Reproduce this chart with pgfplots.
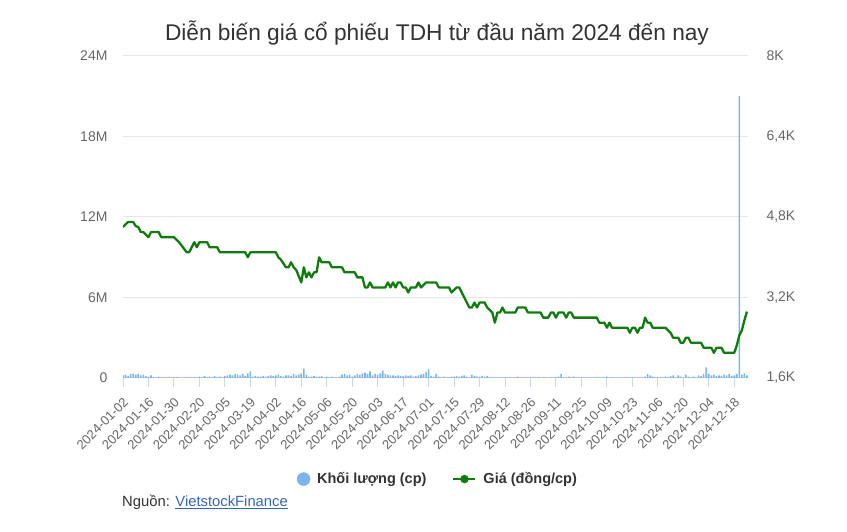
\documentclass[border=0pt]{standalone}
\usepackage{fontspec}
\setmainfont{Liberation Sans}
\usepackage{pgfplots}
\pgfplotsset{compat=1.18}
\definecolor{cgrid}{HTML}{E6E6E6}
\definecolor{caxis}{HTML}{CCD6EB}
\definecolor{clabel}{HTML}{666666}
\definecolor{ctitle}{HTML}{333333}
\definecolor{cbar}{HTML}{7CB5EC}
\definecolor{cline}{RGB}{16,124,16}
\definecolor{clink}{RGB}{51,102,187}
\begin{document}
\begin{tikzpicture}[x=1pt,y=1pt]
\useasboundingbox (0,0) rectangle (847,532);
\node[font=\fontsize{22.7}{26}\selectfont, text=ctitle] at (437,499) {Diễn biến giá cổ phiếu TDH từ đầu năm 2024 đến nay};
\node[anchor=base west, font=\fontsize{14.8}{17}\selectfont, text=ctitle, inner sep=0pt] at (122,25) {Nguồn: \textcolor{clink}{\underline{VietstockFinance}}};
\begin{axis}[
  at={(123pt,154pt)}, anchor=south west,
  scale only axis, width=625pt, height=322pt,
  xmin=0, xmax=245.4, ymin=0, ymax=24,
  ytick={0,6,12,18,24}, yticklabels={0,6M,12M,18M,24M},
  ymajorgrids, grid style={cgrid, line width=1pt},
  xtick={0,10,...,240},
  xticklabels={2024-01-02,2024-01-16,2024-01-30,2024-02-20,2024-03-05,2024-03-19,2024-04-02,2024-04-16,2024-05-06,2024-05-20,2024-06-03,2024-06-17,2024-07-01,2024-07-15,2024-07-29,2024-08-12,2024-08-26,2024-09-11,2024-09-25,2024-10-09,2024-10-23,2024-11-06,2024-11-20,2024-12-04,2024-12-18},
  axis x line*=bottom, axis y line*=left,
  y axis line style={draw=none},
  x axis line style={draw=caxis, line width=1pt},
  tick align=outside, major tick length=9pt,
  xtick style={draw=caxis, line width=1pt},
  ytick style={draw=none},
  xticklabel style={xshift=3pt, yshift=-13pt, rotate=45, anchor=east, font=\fontsize{13}{15}\selectfont, text=clabel, inner sep=0pt},
  yticklabel style={font=\fontsize{14}{16}\selectfont, text=clabel, xshift=-3pt},
]
\addplot[ybar, bar width=1.6pt, fill=cbar, draw=none, bar shift=0pt] coordinates {
(0,0.2)(1,0.25)(2,0.15)(3,0.3)(4,0.3)(5,0.25)(6,0.3)(7,0.2)(8,0.25)(9,0.15)
(10,0.1)(11,0.2)(12,0.08)(13,0.05)(14,0.1)(15,0.05)(16,0.05)(17,0.05)(18,0.08)(19,0.05)
(20,0.04)(21,0.06)(22,0.05)(23,0.03)(24,0.05)(25,0.07)(26,0.05)(27,0.04)(28,0.06)(29,0.05)
(30,0.1)(31,0.05)(32,0.15)(33,0.05)(34,0.1)(35,0.05)(36,0.15)(37,0.05)(38,0.1)(39,0.05)
(40,0.15)(41,0.2)(42,0.25)(43,0.2)(44,0.3)(45,0.25)(46,0.2)(47,0.3)(48,0.15)(49,0.35)
(50,0.5)(51,0.1)(52,0.15)(53,0.1)(54,0.1)(55,0.15)(56,0.1)(57,0.15)(58,0.2)(59,0.15)
(60,0.2)(61,0.25)(62,0.15)(63,0.1)(64,0.2)(65,0.2)(66,0.15)(67,0.3)(68,0.2)(69,0.25)
(70,0.35)(71,0.7)(72,0.25)(73,0.1)(74,0.1)(75,0.15)(76,0.1)(77,0.1)(78,0.15)(79,0.05)
(80,0.1)(81,0.05)(82,0.1)(83,0.05)(84,0.05)(85,0.1)(86,0.25)(87,0.3)(88,0.2)(89,0.25)
(90,0.1)(91,0.2)(92,0.3)(93,0.25)(94,0.35)(95,0.4)(96,0.3)(97,0.5)(98,0.2)(99,0.3)
(100,0.25)(101,0.35)(102,0.55)(103,0.3)(104,0.25)(105,0.2)(106,0.2)(107,0.15)(108,0.2)(109,0.15)
(110,0.15)(111,0.2)(112,0.15)(113,0.2)(114,0.1)(115,0.15)(116,0.2)(117,0.25)(118,0.3)(119,0.45)
(120,0.65)(121,0.15)(122,0.1)(123,0.3)(124,0.1)(125,0.05)(126,0.1)(127,0.05)(128,0.05)(129,0.1)
(130,0.1)(131,0.15)(132,0.1)(133,0.15)(134,0.2)(135,0.1)(136,0.05)(137,0.25)(138,0.15)(139,0.1)
(140,0.1)(141,0.15)(142,0.1)(143,0.15)(144,0.05)(145,0.05)(146,0.05)(147,0.05)(148,0.05)(149,0.05)
(150,0.05)(151,0.04)(152,0.05)(153,0.03)(154,0.05)(155,0.1)(156,0.05)(157,0.04)(158,0.05)(159,0.03)
(160,0.05)(161,0.04)(162,0.05)(163,0.06)(164,0.05)(165,0.04)(166,0.05)(167,0.03)(168,0.05)(169,0.04)
(170,0.05)(171,0.1)(172,0.3)(173,0.05)(174,0.05)(175,0.1)(176,0.05)(177,0.1)(178,0.05)(179,0.05)
(180,0.04)(181,0.05)(182,0.03)(183,0.05)(184,0.04)(185,0.05)(186,0.06)(187,0.05)(188,0.04)(189,0.05)
(190,0.1)(191,0.05)(192,0.04)(193,0.05)(194,0.03)(195,0.05)(196,0.04)(197,0.05)(198,0.06)(199,0.05)
(200,0.05)(201,0.05)(202,0.05)(203,0.05)(204,0.05)(205,0.1)(206,0.3)(207,0.2)(208,0.1)(209,0.05)
(210,0.05)(211,0.05)(212,0.05)(213,0.1)(214,0.05)(215,0.15)(216,0.2)(217,0.05)(218,0.2)(219,0.1)
(220,0.05)(221,0.25)(222,0.1)(223,0.05)(224,0.1)(225,0.05)(226,0.2)(227,0.15)(228,0.3)(229,0.8)
(230,0.3)(231,0.2)(232,0.25)(233,0.15)(234,0.2)(235,0.15)(236,0.25)(237,0.2)(238,0.3)(239,0.15)
(240,0.2)(241,0.3)(242,21)(243,0.25)(244,0.35)(245,0.2)
};
\end{axis}
\begin{axis}[
  at={(123pt,154pt)}, anchor=south west,
  scale only axis, width=625pt, height=322pt,
  xmin=0, xmax=245.4, ymin=1600, ymax=8000,
  hide x axis, axis y line*=right,
  y axis line style={draw=none}, ytick style={draw=none},
  ytick={1600,3200,4800,6400,8000}, yticklabels={{1,6K},{3,2K},{4,8K},{6,4K},8K},
  yticklabel style={font=\fontsize{14}{16}\selectfont, text=clabel, xshift=15pt},
  legend style={at={(0.504,-0.314)}, anchor=center, draw=none, fill=none,
    font=\bfseries\fontsize{14.5}{17}\selectfont, text=ctitle, legend columns=2,
    /tikz/every odd column/.append style={column sep=5pt},
    /tikz/every even column/.append style={column sep=24pt}},
  legend cell align=left,
]
\addlegendimage{only marks, mark=*, mark size=6.5pt, color=cbar}
\addlegendentry{Khối lượng (cp)}
\addlegendimage{legend image code/.code={\draw[cline, line width=2pt] (0pt,0pt) -- (22pt,0pt); \fill[cline] (11pt,0pt) circle (4pt);}}
\addlegendentry{Giá (đồng/cp)}
\addplot[cline, line width=2.3pt, line join=round, mark=none, forget plot] coordinates {
(0,4600)(2,4700)(4,4700)(5,4620)(6,4600)(7,4500)(8,4500)(10,4400)(11,4500)(14,4500)
(15,4400)(20,4400)(22,4300)(25,4100)(26,4100)(28,4300)(29,4200)(30,4300)(33,4300)(34,4200)
(37,4200)(38,4100)(48,4100)(49,4000)(50,4100)(60,4100)(61,4000)(62,3950)(64,3800)(65,3800)
(66,3900)(67,3800)(68,3750)(70,3500)(71,3800)(72,3600)(73,3700)(74,3600)(75,3700)(76,3700)
(77,4000)(78,3900)(81,3900)(82,3800)(86,3800)(87,3700)(91,3700)(92,3600)(94,3600)(95,3400)
(96,3400)(97,3500)(98,3400)(103,3400)(104,3500)(105,3400)(106,3500)(107,3400)(108,3500)(109,3500)
(110,3400)(111,3400)(112,3300)(113,3400)(115,3400)(116,3500)(117,3400)(119,3500)(123,3500)(124,3400)
(128,3400)(129,3300)(131,3400)(132,3400)(133,3300)(134,3200)(136,3000)(137,3000)(138,3100)(139,3000)
(140,3100)(142,3100)(143,3000)(145,2900)(146,2700)(147,2900)(148,2900)(149,3000)(150,2900)(154,2900)
(155,3000)(158,3000)(159,2900)(164,2900)(165,2800)(167,2800)(168,2900)(169,2900)(170,2800)(171,2900)
(173,2900)(174,2800)(175,2900)(176,2900)(177,2800)(186,2800)(187,2700)(189,2700)(190,2600)(191,2700)
(192,2600)(198,2600)(199,2500)(200,2600)(201,2600)(202,2500)(203,2600)(204,2600)(205,2800)(206,2700)
(207,2700)(208,2600)(213,2600)(215,2500)(216,2400)(218,2400)(219,2300)(220,2300)(221,2400)(222,2400)
(223,2300)(227,2300)(228,2200)(231,2200)(232,2100)(233,2200)(235,2200)(236,2100)(240,2100)(241,2250)
(242,2450)(243,2550)(244,2750)(245,2920)
};
\end{axis}
\end{tikzpicture}
\end{document}
